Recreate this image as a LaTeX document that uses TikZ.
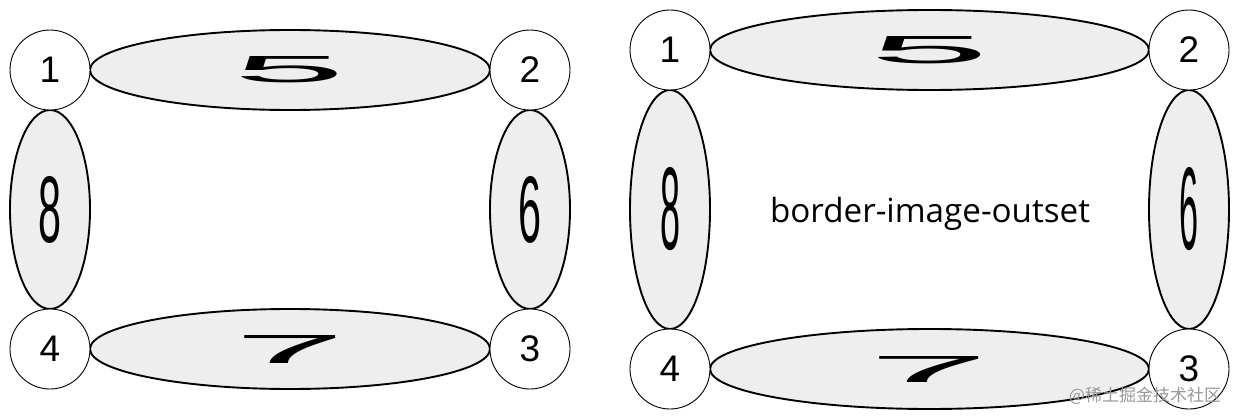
\documentclass[tikz,border=0pt]{standalone}
\usepackage{fontspec}
\setmainfont{Liberation Sans}
\newfontfamily\labelfont{Open Sans}
\newfontfamily\cjkfont{Noto Sans CJK SC}
\usetikzlibrary{shapes.geometric}
\definecolor{ellfill}{RGB}{238,238,238}
\tikzset{
  corner/.style={circle, draw=black, line width=0.9pt, fill=white, minimum size=80pt, inner sep=0pt,
    font=\fontsize{37}{37}\selectfont},
  edgeell/.style={ellipse, draw=black, line width=1.9pt, fill=ellfill, inner sep=0pt},
  horiz/.style={edgeell, minimum width=#1, minimum height=80pt},
  vert/.style={edgeell, minimum width=80pt, minimum height=#1},
  mark text/.style={inner sep=0pt, text=black!40, font=\cjkfont\fontsize{17}{17}\selectfont}
}
\begin{document}
\begin{tikzpicture}[x=1pt,y=-1pt]
\useasboundingbox[fill=white] (0,0) rectangle (1240,420);
% ---------- left panel ----------
\node[horiz=400pt] (lfive)  at (290,70)    {\resizebox{112pt}{26pt}{5}};
\node[horiz=400pt] (lseven) at (290,349)   {\resizebox{111pt}{28pt}{7}};
\node[vert=199pt]  (leight) at (50,209.5)  {\resizebox{23pt}{66pt}{8}};
\node[vert=199pt]  (lsix)   at (530,209.5) {\resizebox{23pt}{66pt}{6}};
\node[corner] (lone)   at (50,70)   {1};
\node[corner] (ltwo)   at (530,70)  {2};
\node[corner] (lthree) at (530,349) {3};
\node[corner] (lfour)  at (50,349)  {4};
% ---------- right panel ----------
\node[horiz=439pt] (rfive)  at (929.5,50)   {\resizebox{120pt}{27pt}{5}};
\node[horiz=439pt] (rseven) at (929.5,369)  {\resizebox{121pt}{26pt}{7}};
\node[vert=239pt]  (reight) at (670,209.5)  {\resizebox{20pt}{82pt}{8}};
\node[vert=239pt]  (rsix)   at (1189,209.5) {\resizebox{19pt}{82pt}{6}};
\node[corner] (rone)   at (670,50)   {1};
\node[corner] (rtwo)   at (1189,50)  {2};
\node[corner] (rthree) at (1189,369) {3};
\node[corner] (rfour)  at (670,369)  {4};
\node[inner sep=0pt] (caption) at (930,214) {\resizebox{320pt}{!}{\labelfont border-image-outset}};
% watermark
\node[mark text] (wm) at (1145,396) {@稀土掘金技术社区};
\end{tikzpicture}
\end{document}
